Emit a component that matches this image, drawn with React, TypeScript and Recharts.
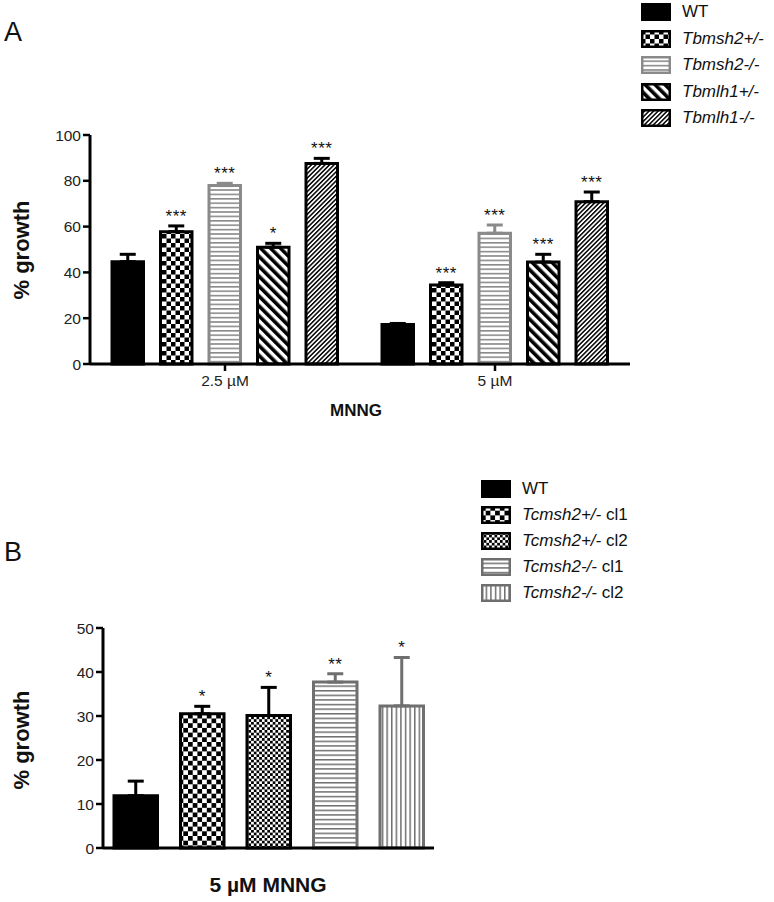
import { BarChart, Bar, XAxis, YAxis, ErrorBar, LabelList } from 'recharts'

const FONT = '"Liberation Sans", Arial, Helvetica, sans-serif'

// Panel A: % growth at two MNNG doses
const doses = ['2.5 \u00b5M', '5 \u00b5M']
const wtA = [44.7, 17.2]
const wtAErr = [3.2, 0.5]
const msh2Het = [57.8, 34.5]
const msh2HetErr = [2.5, 1.0]
const msh2Null = [77.9, 57.1]
const msh2NullErr = [1.0, 3.6]
const mlh1Het = [51.0, 44.5]
const mlh1HetErr = [1.7, 3.4]
const mlh1Null = [87.6, 70.9]
const mlh1NullErr = [2.2, 4.2]
const starsA: Record<string, string[]> = {
  wt: ['', ''],
  msh2Het: ['***', '***'],
  msh2Null: ['***', '***'],
  mlh1Het: ['*', '***'],
  mlh1Null: ['***', '***'],
}
const ticksA = [0, 20, 40, 60, 80, 100]

// Panel B: Tcmsh2 clones at 5 uM MNNG
const groupB = ['5 \u00b5M MNNG']
const wtB = [11.9]
const wtBErr = [3.3]
const hetCl1 = [30.5]
const hetCl1Err = [1.7]
const hetCl2 = [30.1]
const hetCl2Err = [6.4]
const nullCl1 = [37.7]
const nullCl1Err = [1.9]
const nullCl2 = [32.3]
const nullCl2Err = [11.0]
const starsB: Record<string, string[]> = {
  wt: [''],
  c1: ['*'],
  c2: ['*'],
  n1: ['**'],
  n2: ['*'],
}
const ticksB = [0, 10, 20, 30, 40, 50]

const dataA = doses.map((d, i) => ({
  dose: d,
  wt: wtA[i], wtE: [0, wtAErr[i]],
  msh2Het: msh2Het[i], msh2HetE: [0, msh2HetErr[i]],
  msh2Null: msh2Null[i], msh2NullE: [0, msh2NullErr[i]],
  mlh1Het: mlh1Het[i], mlh1HetE: [0, mlh1HetErr[i]],
  mlh1Null: mlh1Null[i], mlh1NullE: [0, mlh1NullErr[i]],
}))

const dataB = groupB.map((g, i) => ({
  group: g,
  wt: wtB[i], wtE: [0, wtBErr[i]],
  c1: hetCl1[i], c1E: [0, hetCl1Err[i]],
  c2: hetCl2[i], c2E: [0, hetCl2Err[i]],
  n1: nullCl1[i], n1E: [0, nullCl1Err[i]],
  n2: nullCl2[i], n2E: [0, nullCl2Err[i]],
}))

const GRAY_A = '#8a8a8a'
const GRAY_B = '#6f6f6f'

function Patterns() {
  return (
    <svg width={0} height={0} style={{ position: 'absolute', left: 0, top: 0 }}>
      <defs>
        <pattern id="chkA" width={9} height={9} patternUnits="userSpaceOnUse">
          <rect width={9} height={9} fill="#fff" />
          <rect width={4.5} height={4.5} fill="#000" />
          <rect x={4.5} y={4.5} width={4.5} height={4.5} fill="#000" />
        </pattern>
        <pattern id="hlnA" width={8} height={4.4} patternUnits="userSpaceOnUse">
          <rect width={8} height={4.4} fill="#fff" />
          <rect width={8} height={1.6} fill={GRAY_A} />
        </pattern>
        <pattern id="dgWide" width={7} height={7} patternUnits="userSpaceOnUse" patternTransform="rotate(-45)">
          <rect width={7} height={7} fill="#fff" />
          <rect width={3.6} height={7} fill="#000" />
        </pattern>
        <pattern id="dgFine" width={3.2} height={3.2} patternUnits="userSpaceOnUse" patternTransform="rotate(45)">
          <rect width={3.2} height={3.2} fill="#fff" />
          <rect width={1.5} height={3.2} fill="#000" />
        </pattern>
        <pattern id="chkB1" width={9.4} height={9.4} patternUnits="userSpaceOnUse">
          <rect width={9.4} height={9.4} fill="#fff" />
          <rect width={4.7} height={4.7} fill="#000" />
          <rect x={4.7} y={4.7} width={4.7} height={4.7} fill="#000" />
        </pattern>
        <pattern id="chkB2" width={5.4} height={5.4} patternUnits="userSpaceOnUse">
          <rect width={5.4} height={5.4} fill="#fff" />
          <rect width={2.7} height={2.7} fill="#000" />
          <rect x={2.7} y={2.7} width={2.7} height={2.7} fill="#000" />
        </pattern>
        <pattern id="hlnB" width={8} height={4.6} patternUnits="userSpaceOnUse">
          <rect width={8} height={4.6} fill="#fff" />
          <rect width={8} height={1.5} fill={GRAY_B} />
        </pattern>
        <pattern id="vlnB" width={4.6} height={8} patternUnits="userSpaceOnUse">
          <rect width={4.6} height={8} fill="#fff" />
          <rect width={1.5} height={8} fill={GRAY_B} />
        </pattern>
      </defs>
    </svg>
  )
}

// asterisks sit just above the top of each error bar
const starLabel = (stars: string[], errs: number[]) => (props: any) => {
  const { x, y, width, height, value, index } = props
  const s = stars[index]
  if (!s || !value) return null
  const top = y - (errs[index] * height) / value
  return (
    <text
      x={x + width / 2}
      y={top - 4}
      textAnchor="middle"
      fontSize={17}
      fontFamily={FONT}
      fill="#111"
      letterSpacing={0.5}
    >
      {s}
    </text>
  )
}

const seriesA = [
  { key: 'wt', fill: '#000', stroke: '#000', errs: wtAErr },
  { key: 'msh2Het', fill: 'url(#chkA)', stroke: '#000', errs: msh2HetErr },
  { key: 'msh2Null', fill: 'url(#hlnA)', stroke: GRAY_A, errs: msh2NullErr },
  { key: 'mlh1Het', fill: 'url(#dgWide)', stroke: '#000', errs: mlh1HetErr },
  { key: 'mlh1Null', fill: 'url(#dgFine)', stroke: '#000', errs: mlh1NullErr },
]

const seriesB = [
  { key: 'wt', fill: '#000', stroke: '#000', errs: wtBErr },
  { key: 'c1', fill: 'url(#chkB1)', stroke: '#000', errs: hetCl1Err },
  { key: 'c2', fill: 'url(#chkB2)', stroke: '#000', errs: hetCl2Err },
  { key: 'n1', fill: 'url(#hlnB)', stroke: GRAY_B, errs: nullCl1Err },
  { key: 'n2', fill: 'url(#vlnB)', stroke: GRAY_B, errs: nullCl2Err },
]

const legendA = [
  { fill: '#000', stroke: '#000', name: 'WT', italic: '', rest: '' },
  { fill: 'url(#chkA)', stroke: '#000', name: '', italic: 'Tbmsh2+/-', rest: '' },
  { fill: 'url(#hlnA)', stroke: GRAY_A, name: '', italic: 'Tbmsh2-/-', rest: '' },
  { fill: 'url(#dgWide)', stroke: '#000', name: '', italic: 'Tbmlh1+/-', rest: '' },
  { fill: 'url(#dgFine)', stroke: '#000', name: '', italic: 'Tbmlh1-/-', rest: '' },
]

const legendB = [
  { fill: '#000', stroke: '#000', name: 'WT', italic: '', rest: '' },
  { fill: 'url(#chkB1)', stroke: '#000', name: '', italic: 'Tcmsh2+/-', rest: ' cl1' },
  { fill: 'url(#chkB2)', stroke: '#000', name: '', italic: 'Tcmsh2+/-', rest: ' cl2' },
  { fill: 'url(#hlnB)', stroke: GRAY_B, name: '', italic: 'Tcmsh2-/-', rest: ' cl1' },
  { fill: 'url(#vlnB)', stroke: GRAY_B, name: '', italic: 'Tcmsh2-/-', rest: ' cl2' },
]

function Legend({ items, left, top, step }: { items: typeof legendA; left: number; top: number; step: number }) {
  return (
    <div style={{ position: 'absolute', left, top }}>
      {items.map((it, i) => (
        <div
          key={i}
          style={{ position: 'absolute', left: 0, top: i * step, height: 18, display: 'flex', alignItems: 'center', whiteSpace: 'nowrap' }}
        >
          <svg width={30} height={18} style={{ display: 'block' }}>
            <rect x={1.25} y={1.25} width={27.5} height={15.5} fill={it.fill} stroke={it.stroke} strokeWidth={2.5} />
          </svg>
          <span style={{ marginLeft: 11, fontSize: 17, fontFamily: FONT, color: '#111', lineHeight: '18px' }}>
            {it.name}
            {it.italic && <i>{it.italic}</i>}
            {it.rest}
          </span>
        </div>
      ))}
    </div>
  )
}

function RotLabel({ text, cx, cy }: { text: string; cx: number; cy: number }) {
  return (
    <div
      style={{
        position: 'absolute', left: cx, top: cy, transform: 'translate(-50%, -50%) rotate(-90deg)',
        fontFamily: FONT, fontWeight: 'bold', fontSize: 22, color: '#111', whiteSpace: 'nowrap', lineHeight: '24px',
      }}
    >
      {text}
    </div>
  )
}

const axisLine = { stroke: '#000', strokeWidth: 3 }
const tickLine = { stroke: '#000', strokeWidth: 2.5 }
const tickStyle = { fontSize: 15.5, fill: '#222', fontFamily: FONT }

export default function App() {
  return (
    <div style={{ position: 'absolute', left: 0, top: 0, width: 774, height: 902, background: '#fff', fontFamily: FONT }}>
      <Patterns />

      <div style={{ position: 'absolute', left: 4, top: 19, fontSize: 27, lineHeight: '27px', color: '#111' }}>A</div>
      <div style={{ position: 'absolute', left: 4, top: 539, fontSize: 27, lineHeight: '27px', color: '#111' }}>B</div>

      <RotLabel text="% growth" cx={22} cy={250} />
      <RotLabel text="% growth" cx={22} cy={740} />

      <Legend items={legendA} left={641} top={3} step={26.5} />
      <Legend items={legendB} left={481} top={480} step={26} />

      <div style={{ position: 'absolute', left: 0, top: 0 }}>
        <BarChart
          width={774}
          height={430}
          data={dataA}
          margin={{ top: 135, right: 144, bottom: 36, left: 40 }}
          barSize={31.5}
          barGap={17}
        >
          <XAxis
            dataKey="dose"
            height={30}
            axisLine={axisLine}
            tickLine={tickLine}
            tickSize={7}
            tickMargin={4}
            tick={tickStyle}
          />
          <YAxis
            width={50}
            domain={[0, 100]}
            ticks={ticksA}
            interval={0}
            axisLine={axisLine}
            tickLine={tickLine}
            tickSize={7}
            tickMargin={2}
            tick={tickStyle}
          />
          {seriesA.map((s) => (
            <Bar key={s.key} dataKey={s.key} fill={s.fill} stroke={s.stroke} strokeWidth={3} isAnimationActive={false}>
              <ErrorBar dataKey={s.key + 'E'} width={8} stroke={s.stroke} strokeWidth={3} direction="y" />
              <LabelList dataKey={s.key} content={starLabel(starsA[s.key], s.errs)} />
            </Bar>
          ))}
        </BarChart>
      </div>

      <div style={{ position: 'absolute', left: 0, top: 460 }}>
        <BarChart
          width={774}
          height={440}
          data={dataB}
          margin={{ top: 168, right: 340, bottom: 22, left: 53 }}
          barSize={43.5}
          barGap={23}
        >
          <XAxis dataKey="group" height={30} axisLine={axisLine} tickLine={false} tick={false} />
          <YAxis
            width={50}
            domain={[0, 50]}
            ticks={ticksB}
            interval={0}
            axisLine={axisLine}
            tickLine={tickLine}
            tickSize={7}
            tickMargin={2}
            tick={tickStyle}
          />
          {seriesB.map((s) => (
            <Bar key={s.key} dataKey={s.key} fill={s.fill} stroke={s.stroke} strokeWidth={3} isAnimationActive={false}>
              <ErrorBar dataKey={s.key + 'E'} width={8} stroke={s.stroke} strokeWidth={3} direction="y" />
              <LabelList dataKey={s.key} content={starLabel(starsB[s.key], s.errs)} />
            </Bar>
          ))}
        </BarChart>
      </div>

      <div style={{ position: 'absolute', left: 356, top: 402, transform: 'translateX(-50%)', fontWeight: 'bold', fontSize: 17, lineHeight: '18px', color: '#111' }}>
        MNNG
      </div>
      <div style={{ position: 'absolute', left: 268, top: 874, transform: 'translateX(-50%)', fontWeight: 'bold', fontSize: 21, lineHeight: '21px', color: '#111', whiteSpace: 'nowrap' }}>
        5 {'\u00b5'}M MNNG
      </div>
    </div>
  )
}
